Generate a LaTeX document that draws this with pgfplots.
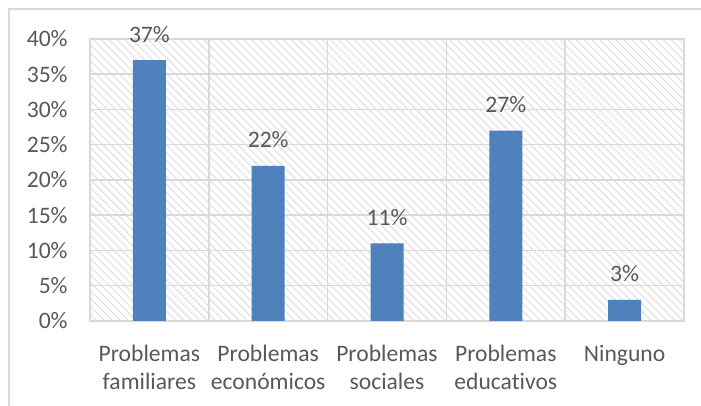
\documentclass[border=0pt]{standalone}
\usepackage{pgfplots}
\pgfplotsset{compat=1.18}
\usepackage{fontspec}
\setmainfont[Ligatures=NoCommon]{Carlito}
\usetikzlibrary{patterns.meta}
\definecolor{barblue}{HTML}{4F81BD}
\definecolor{txt}{HTML}{595959}
\definecolor{gridc}{HTML}{D9D9D9}
\definecolor{hatch}{HTML}{DADADA}
\begin{document}
\begin{tikzpicture}[x=1pt,y=1pt]
\clip (0,0) rectangle (350.5,203);
\fill[white] (0,0) rectangle (350.5,203);
\draw[gridc, line width=0.75pt] (4.5,-5) rectangle (360,198.5);
\begin{axis}[
  at={(45pt,42.5pt)}, anchor=south west,
  scale only axis, width=297pt, height=141pt,
  xmin=-0.5, xmax=4.5, ymin=0, ymax=40,
  ytick={0,5,...,40},
  /pgf/number format/assume math mode=true,
  yticklabel={\pgfmathprintnumber{\tick}\%},
  xtick={0,...,4},
  xticklabels={{Problemas\\familiares},{Problemas\\económicos},{Problemas\\sociales},{Problemas\\educativos},{Ninguno}},
  minor xtick={0.5,1.5,2.5,3.5},
  xminorgrids, ymajorgrids,
  grid style={gridc, line width=0.75pt},
  minor grid style={gridc, line width=0.75pt},
  major tick length=0pt, minor tick length=0pt,
  axis line style={gridc, line width=0.75pt},
  axis background/.style={pattern={Lines[angle=-45, distance=2.8pt, line width=0.4pt]}, pattern color=hatch},
  tick label style={text=txt, font=\fontsize{11.8}{14}\selectfont},
  x tick label style={align=center, inner sep=0pt, yshift=-12pt},
  y tick label style={inner sep=0pt, xshift=-11pt},
  ybar, bar width=16.5pt,
  nodes near coords={\pgfmathprintnumber{\pgfplotspointmeta}\%},
  nodes near coords style={text=txt, font=\fontsize{11.8}{14}\selectfont, anchor=base, inner sep=0pt, yshift=9pt},
]
\addplot[fill=barblue, draw=none] coordinates {(0,37) (1,22) (2,11) (3,27) (4,3)};
\end{axis}
\end{tikzpicture}
\end{document}
